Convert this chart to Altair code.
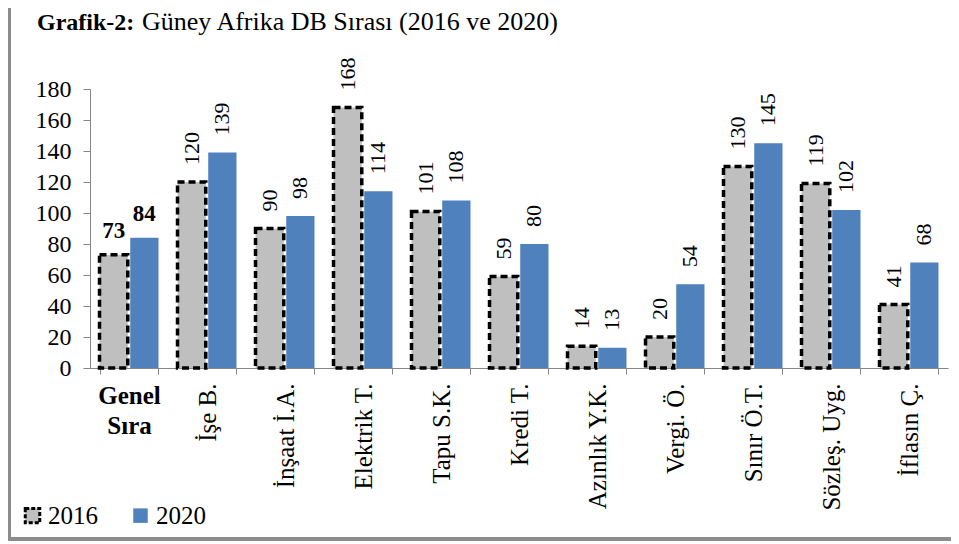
import altair as alt
import pandas as pd

categories = ["Genel Sıra", "İşe B.", "İnşaat İ.A.", "Elektrik T.", "Tapu S.K.",
              "Kredi T.", "Azınlık Y.K.", "Vergi. Ö.", "Sınır Ö.T.", "Sözleş. Uyg.", "İflasın Ç."]
years = ["2016", "2020"]
values_2016 = [73, 120, 90, 168, 101, 59, 14, 20, 130, 119, 41]
values_2020 = [84, 139, 98, 114, 108, 80, 13, 54, 145, 102, 68]
y_ticks = [0, 20, 40, 60, 80, 100, 120, 140, 160, 180]
title_bold = "Grafik-2:"
title_rest = "Güney Afrika DB Sırası (2016 ve 2020)"

rows = []
for c, a, b in zip(categories, values_2016, values_2020):
    rows.append({"kategori": c, "yil": years[0], "deger": a})
    rows.append({"kategori": c, "yil": years[1], "deger": b})
df = pd.DataFrame(rows)

FONT = "Liberation Serif"
GRAY = "#BFBFBF"
BLUE = "#4F81BD"
AXIS = "#868686"
FRAME = "#8C8C8C"
W, H = 858, 279
first = categories[0]
is_first = f"datum.value == '{first}'"
first_parts = first.split(" ")

x_axis = alt.Axis(
    title=None,
    labelAngle={"expr": f"{is_first} ? 0 : 270"},
    labelAlign={"expr": f"{is_first} ? 'center' : 'right'"},
    labelBaseline={"expr": f"{is_first} ? 'top' : 'middle'"},
    labelFontWeight={"expr": f"{is_first} ? 'bold' : 'normal'"},
    labelExpr=f"{is_first} ? ['{first_parts[0]}', '{first_parts[1]}'] : datum.label",
    labelLineHeight=30,
    labelFont=FONT, labelFontSize=25, labelColor="black",
    labelPadding=9, labelOverlap=False, labelLimit=0, labelFlush=False,
    tickSize=6, tickColor=AXIS, domainColor=AXIS, tickBand="extent",
)
y_axis = alt.Axis(
    title=None, values=y_ticks, grid=False,
    labelFont=FONT, labelFontSize=24, labelColor="black", labelPadding=12,
    tickSize=7, tickColor=AXIS, domainColor=AXIS,
)

x_enc = alt.X("kategori:N", sort=categories,
              scale=alt.Scale(paddingInner=0.244, paddingOuter=0.122), axis=x_axis)
xoff = alt.XOffset("yil:N", scale=alt.Scale(domain=years, paddingInner=0.08))
y_enc = alt.Y("deger:Q", scale=alt.Scale(domain=[0, 180], nice=False), axis=y_axis)

legend_kw = dict(
    orient="none", legendX=-70, legendY=414, direction="horizontal", title=None,
    symbolType="square", symbolSize=210, symbolStrokeWidth=3, symbolDash=[4, 2],
    labelFont=FONT, labelFontSize=25, labelColor="black", labelOffset=3,
    columnPadding=29,
)

bars = alt.Chart(df).mark_bar(strokeWidth=3.5, strokeDash=[7, 4]).encode(
    x=x_enc, xOffset=xoff, y=y_enc,
    fill=alt.Fill("yil:N", scale=alt.Scale(domain=years, range=[GRAY, BLUE]),
                  legend=alt.Legend(**legend_kw)),
    stroke=alt.Stroke("yil:N", scale=alt.Scale(domain=years, range=["#000000", "transparent"]),
                      legend=alt.Legend(**legend_kw)),
)

labels_rot = alt.Chart(df).transform_filter(
    alt.datum.kategori != first
).mark_text(angle=270, align="left", baseline="middle", dx=17,
            font=FONT, fontSize=22, color="black").encode(
    x=x_enc, xOffset=xoff, y=y_enc, text="deger:Q"
)

labels_first = alt.Chart(df).transform_filter(
    alt.datum.kategori == first
).mark_text(align="center", baseline="alphabetic", dy=-17,
            font=FONT, fontSize=23, fontWeight="bold", color="black").encode(
    x=x_enc, xOffset=xoff, y=y_enc, text="deger:Q"
)

one = pd.DataFrame({"t": [0]})
title_a = alt.Chart(pd.DataFrame({"t": [title_bold]})).mark_text(
    align="left", baseline="alphabetic", font=FONT, fontSize=24, fontWeight="bold", color="black"
).encode(x=alt.value(-53), y=alt.value(-59), text="t:N")
title_b = alt.Chart(pd.DataFrame({"t": [title_rest]})).mark_text(
    align="left", baseline="alphabetic", font=FONT, fontSize=26, color="black"
).encode(x=alt.value(52), y=alt.value(-59), text="t:N")

frame_left = alt.Chart(one).mark_rule(color=FRAME, strokeWidth=4).encode(
    x=alt.value(-81), y=alt.value(-90), y2=alt.value(452)
)
frame_bottom = alt.Chart(one).mark_rule(color=FRAME, strokeWidth=4).encode(
    x=alt.value(-83), x2=alt.value(W + 3), y=alt.value(450)
)

chart = alt.layer(
    frame_left, frame_bottom, bars, labels_rot, labels_first, title_a, title_b
).properties(
    width=W, height=H, autosize="none",
    padding={"left": 82, "top": 81, "right": 3, "bottom": 175},
).configure_view(stroke=None)

chart.save("out.html", embed_options={"renderer": "svg", "actions": False})
